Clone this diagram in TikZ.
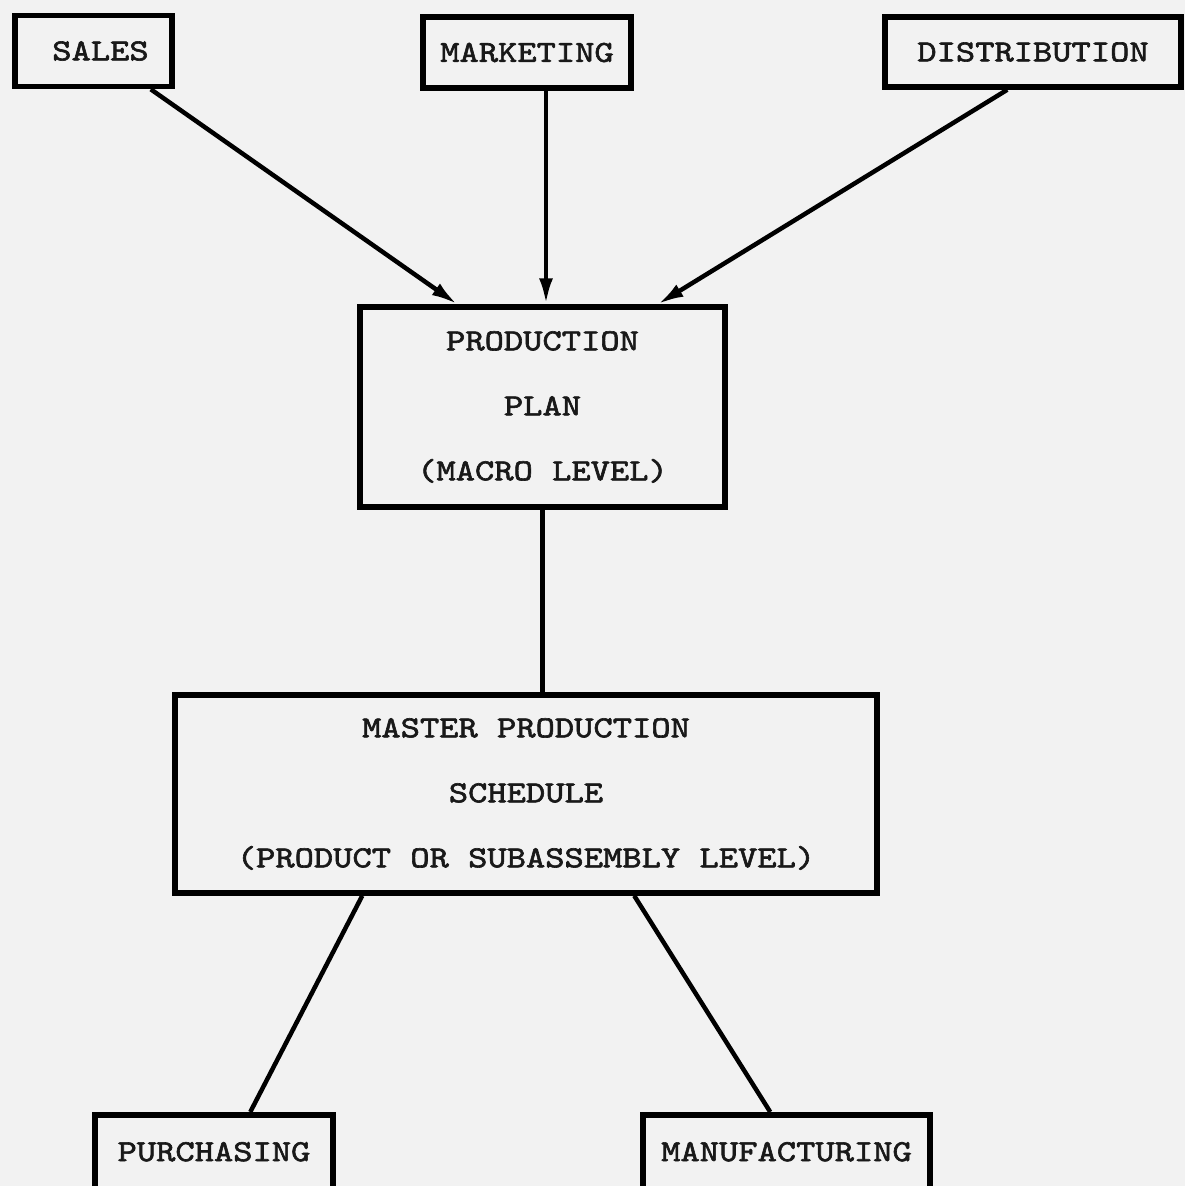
\documentclass[tikz,border=0pt]{standalone}
\usepackage{fontspec}
\newfontfamily\typew{lmmono10-regular.otf}[FakeStretch=1.2,FakeBold=2]
\usetikzlibrary{arrows.meta}
\begin{document}
\begin{tikzpicture}[x=1pt,y=-1pt,
  box/.style={draw, line width=5.5pt, inner sep=0pt, align=center, font=\typew\fontsize{30.6}{65}\selectfont, text=black!90},
  link/.style={line width=4.5pt},
  arr/.style={link, -{Latex[length=26pt,width=14pt]}}]
\fill[black!5] (0,0) rectangle (1185,1186);
\clip (0,0) rectangle (1185,1186);
\node[box, minimum width=157pt, minimum height=71pt] (sales) at (93.5,51) {\hspace*{14pt}SALES};
\node[box, minimum width=208pt, minimum height=71pt] (mkt) at (527,52.5) {MARKETING};
\node[box, minimum width=296pt, minimum height=70pt] (dist) at (1033,52) {DISTRIBUTION};
\node[box, minimum width=365pt, minimum height=200pt] (plan) at (542.5,407) {PRODUCTION\\PLAN\\(MACRO LEVEL)};
\node[box, minimum width=702pt, minimum height=198pt] (mps) at (526,794) {MASTER PRODUCTION\\SCHEDULE\\(PRODUCT OR SUBASSEMBLY LEVEL)};
\node[box, minimum width=238pt, minimum height=74pt, anchor=north] (pur) at (214,1112) {PURCHASING};
\node[box, minimum width=287pt, minimum height=74pt, anchor=north] (man) at (786.5,1112) {MANUFACTURING};
\draw[arr] ([xshift=-24pt]sales.south east) -- ([xshift=100pt]plan.north west);
\draw[arr] ([xshift=19pt]mkt.south) -- ([xshift=19pt]mkt.south |- plan.north);
\draw[arr] ([xshift=125pt]dist.south west) -- ([xshift=-70pt]plan.north east);
\draw[link] (plan.south) -- (plan.south |- mps.north);
\draw[link] ([xshift=190pt]mps.south west) -- ([xshift=158pt]pur.north west);
\draw[link] ([xshift=462pt]mps.south west) -- ([xshift=130pt]man.north west);
\end{tikzpicture}
\end{document}
